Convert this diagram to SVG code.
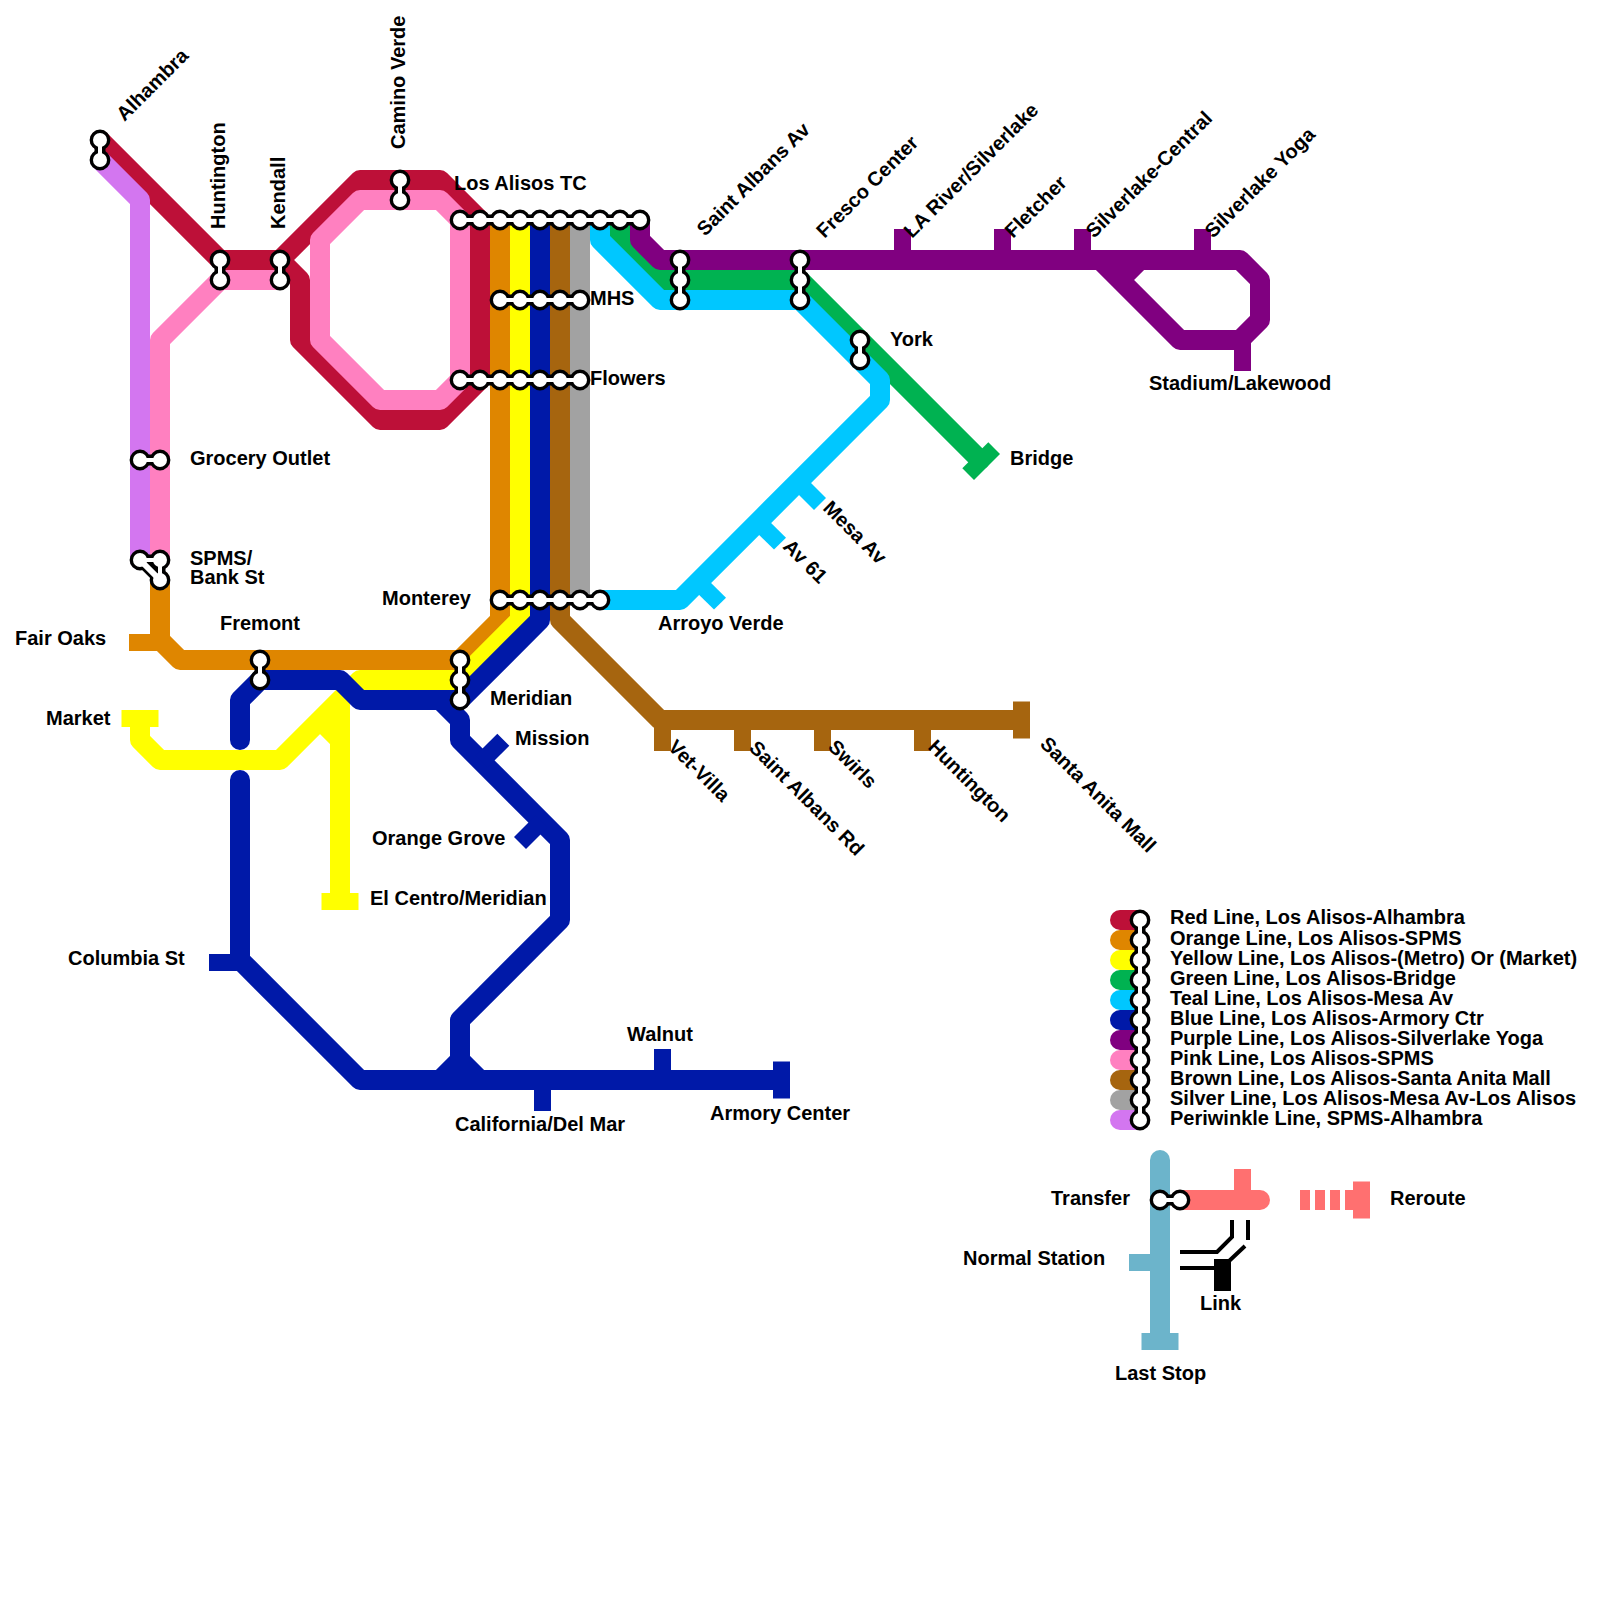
<svg xmlns="http://www.w3.org/2000/svg" width="1600" height="1600" viewBox="0 0 1600 1600">
<style>
.l{fill:none;stroke-width:20;stroke-linecap:round;stroke-linejoin:round}
.red{stroke:#BD1038}.org{stroke:#DF8600}.yel{stroke:#FFFF00}.grn{stroke:#00B251}.tea{stroke:#00C7FF}.blu{stroke:#0019A8}.pur{stroke:#800080}.pnk{stroke:#FF80C0}.brn{stroke:#A6650F}.sil{stroke:#A2A2A2}.per{stroke:#D376F0}.lbl{stroke:#6CB4CB}.cor{stroke:#FF7070}
.fred{fill:#BD1038}.forg{fill:#DF8600}.fyel{fill:#FFFF00}.fgrn{fill:#00B251}.ftea{fill:#00C7FF}.fblu{fill:#0019A8}.fpur{fill:#800080}.fbrn{fill:#A6650F}.flbl{fill:#6CB4CB}.fcor{fill:#FF7070}
.nb{fill:none;stroke:#000;stroke-width:11;stroke-linejoin:round}
.nw{fill:none;stroke:#fff;stroke-width:4}
circle{fill:#fff;stroke:#000;stroke-width:3.4}
text{font-family:"Liberation Sans",Arial,sans-serif;font-weight:bold;font-size:20px;fill:#000}
.k{fill:none;stroke:#000;stroke-width:4}
</style>
<g id="connectors">
<g id="line-red"><path class="l red" d="M100 140L220 260L280 260L360 180L440 180L480 220L480 380L440 420L380 420L300 340L300 280L280 260"/></g>
<g id="line-orange"><path class="l org" d="M500 220L500 620L460 660L180 660L160 640L160 580"/><rect class="forg" x="129" y="634" width="31" height="17"/></g>
<g id="line-yellow"><path class="l yel" d="M520 220L520 620L460 680L360 680L280 760L160 760L140 740L140 720M320 720L340 740L340 900M340 700L340 740"/><rect class="fyel" x="121.500" y="710" width="37" height="17"/><rect class="fyel" x="321.500" y="893" width="37" height="17"/></g>
<g id="line-green"><path class="l grn" d="M620 220L620 240L660 280L800 280L980 460"/><polygon class="fgrn" points="988.300,442.300 1000,454 974,480 962.300,468.300"/></g>
<g id="line-teal"><path class="l tea" d="M600 220L600 240L660 300L800 300L880 380L880 400L680 600L600 600"/><polygon class="ftea" points="826,498 814,510 792,488 804,476"/><polygon class="ftea" points="786,537.700 774,549.500 752,528 764,516"/><polygon class="ftea" points="726,597.700 714,609.500 692,588 704,576"/></g>
<g id="line-blue"><path class="l blu" d="M540 220L540 620L460 700L360 700L340 680L260 680L240 700L240 740M240 780L240 960L360 1080L780 1080M440 700L460 720L460 740L560 840L560 920L460 1020L460 1060L440 1080M460 1060L480 1080"/><rect class="fblu" x="209" y="954" width="31" height="17"/><rect class="fblu" x="534" y="1080" width="17" height="31"/><rect class="fblu" x="654" y="1049" width="17" height="31"/><rect class="fblu" x="773" y="1061.500" width="17" height="37"/><polygon class="fblu" points="497.300,733.800 509.300,745.800 487.500,767.500 475.500,755.500"/><polygon class="fblu" points="514,837 526,849 547.500,827.500 535.500,815.500"/></g>
<g id="line-purple"><path class="l pur" d="M640 220L640 240L660 260L1240 260L1260 280L1260 320L1240 340L1180 340L1100 260M1120 280L1140 260"/><rect class="fpur" x="894" y="229" width="17" height="31"/><rect class="fpur" x="994" y="229" width="17" height="31"/><rect class="fpur" x="1074" y="229" width="17" height="31"/><rect class="fpur" x="1194" y="229" width="17" height="31"/><rect class="fpur" x="1234" y="340" width="17" height="31"/></g>
<g id="line-pink"><path class="l pnk" d="M160 560L160 340L220 280L280 280"/><path class="l pnk" d="M320 240L360 200L440 200L460 220L460 380L440 400L380 400L320 340Z"/></g>
<g id="line-brown"><path class="l brn" d="M560 220L560 620L660 720L1020 720"/><rect class="fbrn" x="654" y="720" width="17" height="31"/><rect class="fbrn" x="734" y="720" width="17" height="31"/><rect class="fbrn" x="814" y="720" width="17" height="31"/><rect class="fbrn" x="914" y="720" width="17" height="31"/><rect class="fbrn" x="1013" y="701.500" width="17" height="37"/></g>
<g id="line-silver"><path class="l sil" d="M580 220L580 600"/></g>
<g id="line-periwinkle"><path class="l per" d="M100 160L140 200L140 560"/></g>
</g>
<g id="legend-lines">
<path class="l red" d="M1120 920L1140 920"/><path class="l org" d="M1120 940L1140 940"/><path class="l yel" d="M1120 960L1140 960"/><path class="l grn" d="M1120 980L1140 980"/><path class="l tea" d="M1120 1000L1140 1000"/><path class="l blu" d="M1120 1020L1140 1020"/><path class="l pur" d="M1120 1040L1140 1040"/><path class="l pnk" d="M1120 1060L1140 1060"/><path class="l brn" d="M1120 1080L1140 1080"/><path class="l sil" d="M1120 1100L1140 1100"/><path class="l per" d="M1120 1120L1140 1120"/>
<path class="l lbl" d="M1160 1160L1160 1340"/><rect class="flbl" x="1129" y="1254" width="21" height="17"/><rect class="flbl" x="1141.500" y="1333" width="37" height="17"/>
<path class="l cor" d="M1180 1200L1260 1200"/><rect class="fcor" x="1234" y="1169" width="17" height="21"/>
<path fill="none" stroke="#FF7070" stroke-width="20" stroke-dasharray="10 5" d="M1300 1200L1360 1200"/><rect class="fcor" x="1353" y="1181.500" width="17" height="37"/>
<path class="k" d="M1180 1252L1217 1252L1232 1237L1232 1220M1180 1268L1216 1268M1228 1262L1245 1246M1248 1220L1248 1240"/><rect x="1214" y="1259" width="17" height="32" fill="#000"/>
</g>
<g id="st-alhambra"><path class="nb" d="M100 140L100 160"/><circle cx="100" cy="140" r="8.700"/><circle cx="100" cy="160" r="8.700"/><path class="nw" d="M100 140L100 160"/></g>
<g id="st-huntington"><path class="nb" d="M220 260L220 280"/><circle cx="220" cy="260" r="8.700"/><circle cx="220" cy="280" r="8.700"/><path class="nw" d="M220 260L220 280"/></g>
<g id="st-kendall"><path class="nb" d="M280 260L280 280"/><circle cx="280" cy="260" r="8.700"/><circle cx="280" cy="280" r="8.700"/><path class="nw" d="M280 260L280 280"/></g>
<g id="st-camino-verde"><path class="nb" d="M400 180L400 200"/><circle cx="400" cy="180" r="8.700"/><circle cx="400" cy="200" r="8.700"/><path class="nw" d="M400 180L400 200"/></g>
<g id="st-los-alisos-tc"><path class="nb" d="M460 220L640 220"/><circle cx="460" cy="220" r="8.700"/><circle cx="480" cy="220" r="8.700"/><circle cx="500" cy="220" r="8.700"/><circle cx="520" cy="220" r="8.700"/><circle cx="540" cy="220" r="8.700"/><circle cx="560" cy="220" r="8.700"/><circle cx="580" cy="220" r="8.700"/><circle cx="600" cy="220" r="8.700"/><circle cx="620" cy="220" r="8.700"/><circle cx="640" cy="220" r="8.700"/><path class="nw" d="M460 220L640 220"/></g>
<g id="st-mhs"><path class="nb" d="M500 300L580 300"/><circle cx="500" cy="300" r="8.700"/><circle cx="520" cy="300" r="8.700"/><circle cx="540" cy="300" r="8.700"/><circle cx="560" cy="300" r="8.700"/><circle cx="580" cy="300" r="8.700"/><path class="nw" d="M500 300L580 300"/></g>
<g id="st-flowers"><path class="nb" d="M460 380L580 380"/><circle cx="460" cy="380" r="8.700"/><circle cx="480" cy="380" r="8.700"/><circle cx="500" cy="380" r="8.700"/><circle cx="520" cy="380" r="8.700"/><circle cx="540" cy="380" r="8.700"/><circle cx="560" cy="380" r="8.700"/><circle cx="580" cy="380" r="8.700"/><path class="nw" d="M460 380L580 380"/></g>
<g id="st-monterey"><path class="nb" d="M500 600L600 600"/><circle cx="500" cy="600" r="8.700"/><circle cx="520" cy="600" r="8.700"/><circle cx="540" cy="600" r="8.700"/><circle cx="560" cy="600" r="8.700"/><circle cx="580" cy="600" r="8.700"/><circle cx="600" cy="600" r="8.700"/><path class="nw" d="M500 600L600 600"/></g>
<g id="st-saint-albans-av"><path class="nb" d="M680 260L680 300"/><circle cx="680" cy="260" r="8.700"/><circle cx="680" cy="280" r="8.700"/><circle cx="680" cy="300" r="8.700"/><path class="nw" d="M680 260L680 300"/></g>
<g id="st-fresco-center"><path class="nb" d="M800 260L800 300"/><circle cx="800" cy="260" r="8.700"/><circle cx="800" cy="280" r="8.700"/><circle cx="800" cy="300" r="8.700"/><path class="nw" d="M800 260L800 300"/></g>
<g id="st-york"><path class="nb" d="M860 340L860 360"/><circle cx="860" cy="340" r="8.700"/><circle cx="860" cy="360" r="8.700"/><path class="nw" d="M860 340L860 360"/></g>
<g id="st-grocery-outlet"><path class="nb" d="M140 460L160 460"/><circle cx="140" cy="460" r="8.700"/><circle cx="160" cy="460" r="8.700"/><path class="nw" d="M140 460L160 460"/></g>
<g id="st-spms"><path class="nb" d="M140 560L160 560L160 580L140 560"/><circle cx="140" cy="560" r="8.700"/><circle cx="160" cy="560" r="8.700"/><circle cx="160" cy="580" r="8.700"/><path class="nw" d="M140 560L160 560M160 560L160 580"/><path fill="none" stroke="#fff" stroke-width="6" d="M140 560L160 580"/></g>
<g id="st-fremont"><path class="nb" d="M260 660L260 680"/><circle cx="260" cy="660" r="8.700"/><circle cx="260" cy="680" r="8.700"/><path class="nw" d="M260 660L260 680"/></g>
<g id="st-meridian"><path class="nb" d="M460 660L460 700"/><circle cx="460" cy="660" r="8.700"/><circle cx="460" cy="680" r="8.700"/><circle cx="460" cy="700" r="8.700"/><path class="nw" d="M460 660L460 700"/></g>
<g id="st-legend"><path class="nb" d="M1140 920L1140 1120"/><circle cx="1140" cy="920" r="8.700"/><circle cx="1140" cy="940" r="8.700"/><circle cx="1140" cy="960" r="8.700"/><circle cx="1140" cy="980" r="8.700"/><circle cx="1140" cy="1000" r="8.700"/><circle cx="1140" cy="1020" r="8.700"/><circle cx="1140" cy="1040" r="8.700"/><circle cx="1140" cy="1060" r="8.700"/><circle cx="1140" cy="1080" r="8.700"/><circle cx="1140" cy="1100" r="8.700"/><circle cx="1140" cy="1120" r="8.700"/><path class="nw" d="M1140 920L1140 1120"/></g>
<g id="st-transfer"><path class="nb" d="M1160 1200L1180 1200"/><circle cx="1160" cy="1200" r="8.700"/><circle cx="1180" cy="1200" r="8.700"/><path class="nw" d="M1160 1200L1180 1200"/></g>
<g id="labels">
<text transform="translate(124.500 122) rotate(-45)">Alhambra</text>
<text transform="translate(225 229) rotate(-90)">Huntington</text>
<text transform="translate(285 229) rotate(-90)">Kendall</text>
<text transform="translate(404.500 149) rotate(-90)">Camino Verde</text>
<text x="454" y="190">Los Alisos TC</text>
<text x="590" y="305">MHS</text>
<text x="590" y="385">Flowers</text>
<text transform="translate(705 237) rotate(-45)">Saint Albans Av</text>
<text transform="translate(824.500 239) rotate(-45)">Fresco Center</text>
<text transform="translate(912 239) rotate(-45)">LA River/Silverlake</text>
<text transform="translate(1013 239) rotate(-45)">Fletcher</text>
<text transform="translate(1094 239) rotate(-45)">Silverlake-Central</text>
<text transform="translate(1213 239) rotate(-45)">Silverlake Yoga</text>
<text x="890" y="346">York</text>
<text x="1010" y="465">Bridge</text>
<text x="1149" y="390">Stadium/Lakewood</text>
<text transform="translate(822 509) rotate(45)">Mesa Av</text>
<text transform="translate(782 547.500) rotate(45)">Av 61</text>
<text x="658" y="630">Arroyo Verde</text>
<text x="190" y="465">Grocery Outlet</text>
<text x="190" y="565">SPMS/</text>
<text x="190" y="584">Bank St</text>
<text x="382" y="605">Monterey</text>
<text x="15" y="645">Fair Oaks</text>
<text x="220" y="630">Fremont</text>
<text x="46" y="725">Market</text>
<text x="490" y="705">Meridian</text>
<text x="515" y="745">Mission</text>
<text x="372" y="845">Orange Grove</text>
<text x="370" y="905">El Centro/Meridian</text>
<text x="68" y="965">Columbia St</text>
<text x="455" y="1131">California/Del Mar</text>
<text x="627" y="1041">Walnut</text>
<text x="710" y="1120">Armory Center</text>
<text transform="translate(667 748) rotate(45)">Vet-Villa</text>
<text transform="translate(748 749) rotate(45)">Saint Albans Rd</text>
<text transform="translate(827 748) rotate(45)">Swirls</text>
<text transform="translate(927 748) rotate(45)">Huntington</text>
<text transform="translate(1039 745) rotate(45)">Santa Anita Mall</text>
<text x="1170" y="924">Red Line, Los Alisos-Alhambra</text>
<text x="1170" y="945">Orange Line, Los Alisos-SPMS</text>
<text x="1170" y="965">Yellow Line, Los Alisos-(Metro) Or (Market)</text>
<text x="1170" y="985">Green Line, Los Alisos-Bridge</text>
<text x="1170" y="1005">Teal Line, Los Alisos-Mesa Av</text>
<text x="1170" y="1025">Blue Line, Los Alisos-Armory Ctr</text>
<text x="1170" y="1045">Purple Line, Los Alisos-Silverlake Yoga</text>
<text x="1170" y="1065">Pink Line, Los Alisos-SPMS</text>
<text x="1170" y="1085">Brown Line, Los Alisos-Santa Anita Mall</text>
<text x="1170" y="1105">Silver Line, Los Alisos-Mesa Av-Los Alisos</text>
<text x="1170" y="1125">Periwinkle Line, SPMS-Alhambra</text>
<text x="1051" y="1205">Transfer</text>
<text x="963" y="1265">Normal Station</text>
<text x="1200" y="1310">Link</text>
<text x="1115" y="1380">Last Stop</text>
<text x="1390" y="1205">Reroute</text>
</g>
</svg>
